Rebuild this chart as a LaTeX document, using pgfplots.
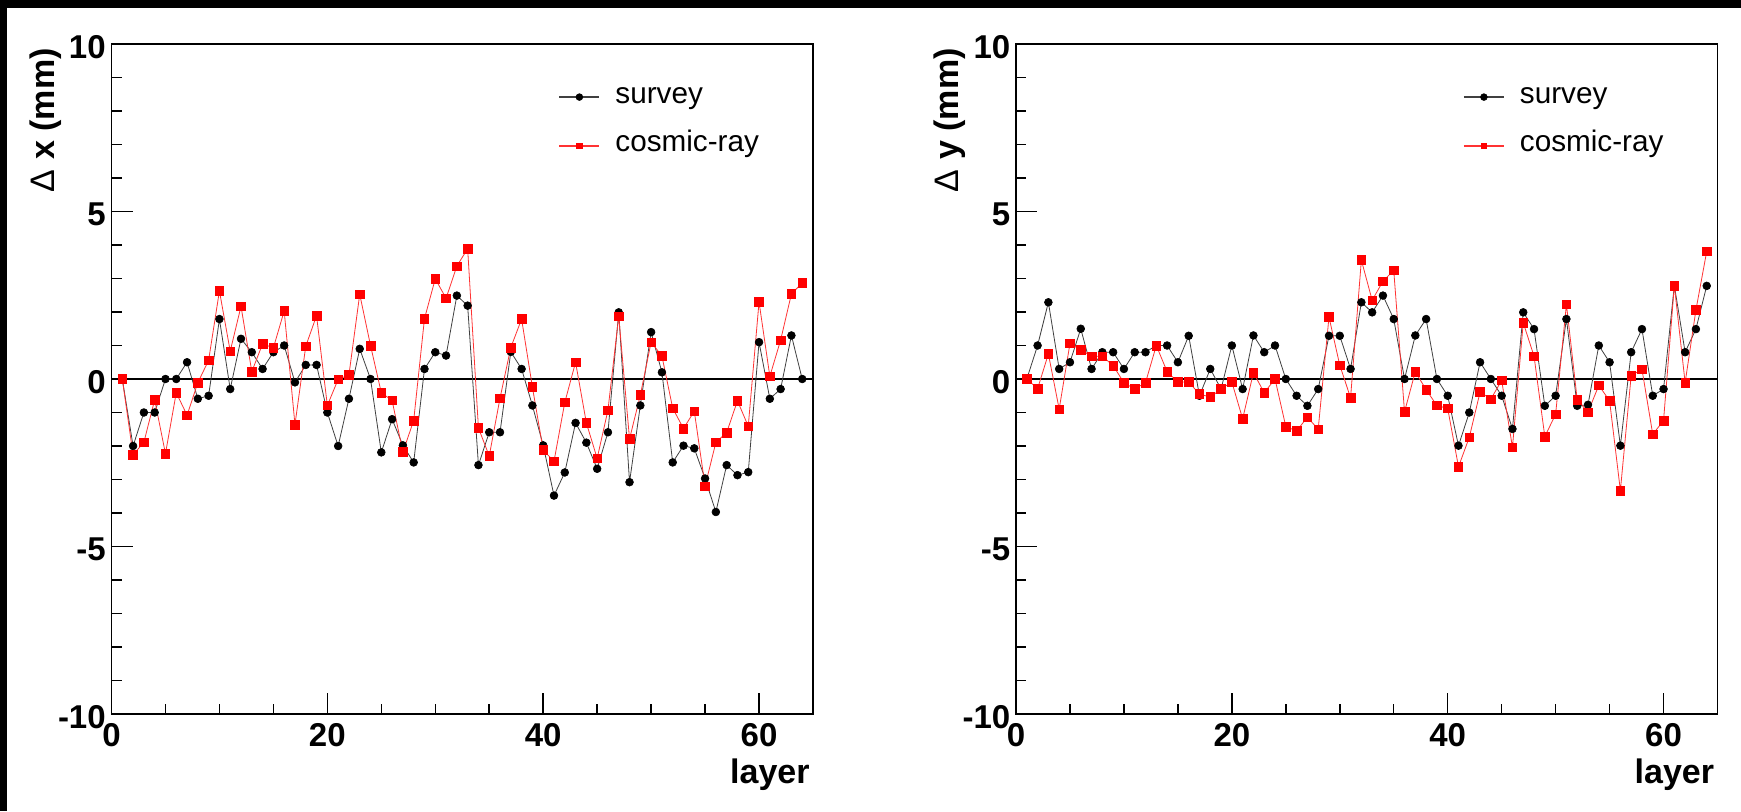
\documentclass[border=0pt]{standalone}
\usepackage{fontspec}
\setmainfont{Liberation Sans}
\usepackage{pgfplots}
\usepackage{pgfplotstable}
\pgfplotsset{compat=1.18}

\pgfplotstableread{
L dx dy
1 0 0
2 -2.0 1.0
3 -1.0 2.29
4 -1.0 0.3
5 0 0.5
6 0 1.5
7 0.5 0.3
8 -0.59 0.8
9 -0.5 0.8
10 1.79 0.3
11 -0.3 0.8
12 1.2 0.8
13 0.8 1.0
14 0.3 1.0
15 0.8 0.5
16 1.0 1.29
17 -0.1 -0.5
18 0.42 0.3
19 0.42 -0.3
20 -1.0 1.0
21 -2.0 -0.3
22 -0.59 1.3
23 0.9 0.8
24 0 1.0
25 -2.19 0
26 -1.2 -0.5
27 -1.98 -0.8
28 -2.49 -0.3
29 0.3 1.29
30 0.8 1.29
31 0.7 0.3
32 2.49 2.29
33 2.19 1.99
34 -2.57 2.49
35 -1.59 1.79
36 -1.59 0
37 0.81 1.3
38 0.3 1.79
39 -0.79 0
40 -1.98 -0.5
41 -3.48 -1.99
42 -2.79 -1.0
43 -1.31 0.5
44 -1.9 0
45 -2.68 -0.5
46 -1.59 -1.49
47 1.99 1.99
48 -3.08 1.49
49 -0.79 -0.8
50 1.4 -0.5
51 0.2 1.79
52 -2.49 -0.8
53 -1.99 -0.77
54 -2.07 1.0
55 -2.97 0.5
56 -3.97 -1.99
57 -2.57 0.8
58 -2.87 1.49
59 -2.78 -0.5
60 1.1 -0.3
61 -0.59 2.79
62 -0.3 0.8
63 1.3 1.49
64 0 2.78
}\survey

\pgfplotstableread{
L dx dy
1 0 0
2 -2.26 -0.29
3 -1.89 0.75
4 -0.62 -0.9
5 -2.23 1.06
6 -0.41 0.87
7 -1.08 0.68
8 -0.11 0.68
9 0.56 0.4
10 2.63 -0.11
11 0.83 -0.3
12 2.17 -0.11
13 0.22 1.0
14 1.05 0.22
15 0.93 -0.09
16 2.03 -0.09
17 -1.36 -0.45
18 0.98 -0.54
19 1.89 -0.3
20 -0.79 -0.09
21 -0.01 -1.19
22 0.12 0.19
23 2.53 -0.41
24 1.0 0
25 -0.41 -1.42
26 -0.64 -1.55
27 -2.18 -1.14
28 -1.24 -1.5
29 1.8 1.85
30 2.99 0.41
31 2.41 -0.56
32 3.37 3.55
33 3.89 2.35
34 -1.46 2.92
35 -2.3 3.24
36 -0.57 -0.98
37 0.94 0.22
38 1.79 -0.32
39 -0.24 -0.79
40 -2.12 -0.88
41 -2.46 -2.62
42 -0.7 -1.74
43 0.5 -0.39
44 -1.31 -0.6
45 -2.37 -0.04
46 -0.93 -2.04
47 1.87 1.68
48 -1.79 0.68
49 -0.48 -1.72
50 1.1 -1.05
51 0.69 2.23
52 -0.87 -0.62
53 -1.48 -0.99
54 -0.96 -0.19
55 -3.2 -0.65
56 -1.89 -3.33
57 -1.6 0.1
58 -0.65 0.29
59 -1.41 -1.65
60 2.3 -1.24
61 0.08 2.79
62 1.16 -0.11
63 2.54 2.06
64 2.87 3.81
}\cosmic

\pgfplotsset{
  rootstyle/.style={
    scale only axis, width=350.75pt, height=335pt,
    xmin=0, xmax=65, ymin=-10, ymax=10,
    xtick={0,20,40,60}, ytick={-10,-5,0,5,10},
    minor x tick num=3, minor y tick num=4,
    xtick pos=bottom, ytick pos=left, tick align=inside,
    major tick length=10.5pt, minor tick length=5pt,
    axis line style={line width=0.9pt},
    every tick/.style={line width=0.75pt, black},
    /pgf/number format/assume math mode=true,
    tick label style={font=\fontsize{16.5}{18}\selectfont\bfseries},
    yticklabel style={inner sep=0pt, xshift=-2.7pt, yshift=-1.5pt},
    xticklabel style={inner sep=0pt, yshift=-4.5pt},
    xlabel={layer},
    xlabel style={at={(rel axis cs:1,0)}, anchor=north east, inner sep=0pt, yshift=-22pt, xshift=-1.5pt, font=\fontsize{17}{19}\selectfont\bfseries},
    legend cell align=left,
    legend style={draw=none, fill=none, inner sep=0pt,
      at={(rel axis cs:0.6365,0.9348)}, anchor=north west,
      row sep=15.4pt, font=\fontsize{14.85}{17}\selectfont,
      nodes={inner sep=0pt},
      /tikz/every odd column/.append style={column sep=7.5pt},
      /tikz/every even column/.append style={text height=0.75em, text depth=0.25em}},
  },
  surveystyle/.style={draw=black!75, line width=0.4pt, mark=*, mark size=1.95pt,
    mark options={fill=black, draw=black, line width=0.3pt},
    legend image code/.code={\draw[mark repeat=2, mark phase=2, line width=1pt, mark size=1.7pt] plot coordinates {(0pt,0pt) (10pt,0pt) (20pt,0pt)};}},
  cosmicstyle/.style={draw=red!80, line width=0.4pt, mark=square*, mark size=2.15pt,
    mark options={fill=red, draw=red, line width=0.3pt},
    legend image code/.code={\draw[mark repeat=2, mark phase=2, line width=1pt, mark size=1.4pt] plot coordinates {(0pt,0pt) (10pt,0pt) (20pt,0pt)};}},
}

\begin{document}
\begin{tikzpicture}
\useasboundingbox (0,0) rectangle (870.5pt,405.5pt);
\fill[white] (0,0) rectangle (870.5pt,405.5pt);
\fill[black] (0,401.5pt) rectangle (870.5pt,405.5pt);
\fill[black] (0,0) rectangle (3.5pt,405.5pt);

\begin{axis}[rootstyle, at={(55.75pt,48.5pt)}, anchor=south west]
\addplot[black, line width=0.9pt, forget plot] coordinates {(0,0) (65,0)};
\addplot[surveystyle] table[x=L, y=dx] {\survey};
\addlegendentry{survey}
\addplot[cosmicstyle] table[x=L, y=dx] {\cosmic};
\addlegendentry{cosmic-ray}
\end{axis}

\begin{axis}[rootstyle, at={(508pt,48.5pt)}, anchor=south west]
\addplot[black, line width=0.9pt, forget plot] coordinates {(0,0) (65,0)};
\addplot[surveystyle] table[x=L, y=dy] {\survey};
\addlegendentry{survey}
\addplot[cosmicstyle] table[x=L, y=dy] {\cosmic};
\addlegendentry{cosmic-ray}
\end{axis}

\node[rotate=90, anchor=east, inner sep=0pt, font=\fontsize{17}{19}\selectfont\bfseries] at (22.75pt,381.5pt) {{\mdseries Δ} x (mm)};
\node[rotate=90, anchor=east, inner sep=0pt, font=\fontsize{17}{19}\selectfont\bfseries] at (475pt,381.5pt) {{\mdseries Δ} y (mm)};
\end{tikzpicture}
\end{document}
